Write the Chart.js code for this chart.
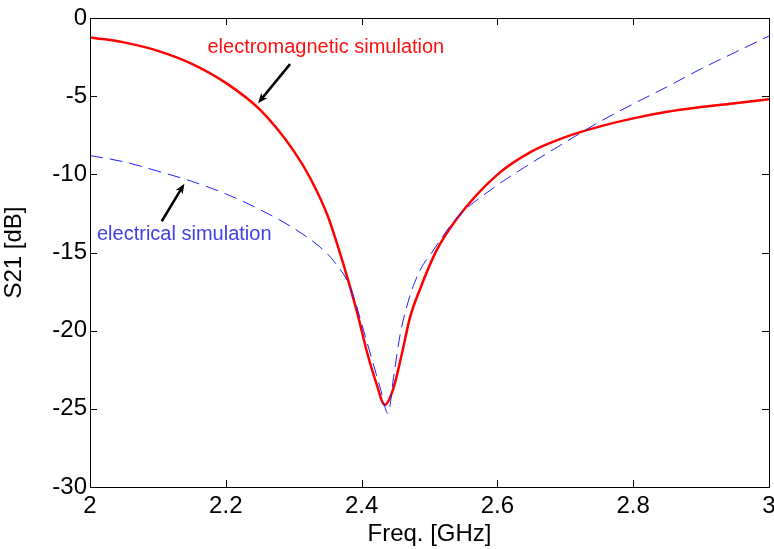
<!DOCTYPE html>
<html>
<head>
<meta charset="utf-8">
<script src="https://cdn.jsdelivr.net/npm/chart.js@4/dist/chart.umd.min.js"></script>
<style>
  html, body { margin: 0; padding: 0; background: #fff; }
  #wrap { width: 774px; height: 549px; }
</style>
</head>
<body>
<div id="wrap"><canvas id="s21"></canvas></div>
<script>
// values
const emFreq = [2.00, 2.025, 2.05, 2.10, 2.15, 2.20, 2.25, 2.30, 2.325, 2.35, 2.365, 2.383, 2.395, 2.4075, 2.422, 2.434, 2.446, 2.46, 2.471, 2.486, 2.51, 2.54, 2.60, 2.65, 2.70, 2.75, 2.80, 2.85, 2.90, 2.95, 3.00];
const emS21  = [-1.25, -1.38, -1.56, -2.1, -2.93, -4.15, -5.85, -8.5, -10.3, -12.65, -14.6, -17.2, -19.1, -21.3, -23.4, -24.75, -23.8, -21.35, -19.2, -17.35, -14.9, -12.85, -10.02, -8.55, -7.62, -6.95, -6.42, -6.0, -5.7, -5.45, -5.2];

const elFreq = [2.00, 2.05, 2.10, 2.15, 2.20, 2.25, 2.30, 2.34, 2.36, 2.383, 2.407, 2.427, 2.439, 2.447, 2.457, 2.471, 2.486, 2.505, 2.54, 2.59, 2.64, 2.70, 2.75, 2.80, 2.85, 2.90, 2.95, 3.00];
const elS21  = [-8.8, -9.2, -9.8, -10.45, -11.25, -12.25, -13.45, -14.7, -15.6, -17.2, -20.6, -23.6, -25.3, -23.0, -20.2, -17.8, -16.15, -14.9, -12.8, -11.0, -9.55, -7.95, -6.65, -5.5, -4.4, -3.25, -2.2, -1.15];

const xTicks = [2, 2.2, 2.4, 2.6, 2.8, 3];
const yTicks = [0, -5, -10, -15, -20, -25, -30];

// pointer labels (data coordinates)
const notes = [
  { text: "electromagnetic simulation", color: "#ff1010", at: [2.173, -1.86], from: [2.2946, -2.95], to: [2.2474, -5.45] },
  { text: "electrical simulation", color: "#4040e8", at: [2.0103, -13.85], from: [2.1056, -13.0], to: [2.139, -10.6] }
];

function pts(xs, ys) {
  return xs.map((x, i) => ({ x: x, y: ys[i] }));
}

const FONT = "'Liberation Sans', Arial, sans-serif";

// box around the plot with inward ticks, matlab style
const boxPlugin = {
  id: "box",
  afterDraw(chart) {
    const ctx = chart.ctx, a = chart.chartArea;
    const xs = chart.scales.x, ys = chart.scales.y;
    const len = 7;
    ctx.save();
    ctx.strokeStyle = "#000";
    ctx.lineWidth = 1;
    ctx.beginPath();
    xTicks.forEach(v => {
      const px = Math.round(xs.getPixelForValue(v)) + 0.5;
      ctx.moveTo(px, a.bottom); ctx.lineTo(px, a.bottom - len);
      ctx.moveTo(px, a.top); ctx.lineTo(px, a.top + len);
    });
    yTicks.forEach(v => {
      const py = Math.round(ys.getPixelForValue(v)) + 0.5;
      ctx.moveTo(a.left, py); ctx.lineTo(a.left + len, py);
      ctx.moveTo(a.right, py); ctx.lineTo(a.right - len, py);
    });
    ctx.stroke();
    ctx.strokeRect(Math.round(a.left) + 0.5, Math.round(a.top) + 0.5, Math.round(a.right - a.left), Math.round(a.bottom - a.top));
    ctx.restore();
  }
};

const notePlugin = {
  id: "notes",
  afterDatasetsDraw(chart) {
    const ctx = chart.ctx;
    const xs = chart.scales.x, ys = chart.scales.y;
    ctx.save();
    notes.forEach(n => {
      ctx.font = "20px " + FONT;
      ctx.fillStyle = n.color;
      ctx.textAlign = "left";
      ctx.textBaseline = "middle";
      ctx.fillText(n.text, xs.getPixelForValue(n.at[0]), ys.getPixelForValue(n.at[1]));
      // arrow
      const x1 = xs.getPixelForValue(n.from[0]), y1 = ys.getPixelForValue(n.from[1]);
      const x2 = xs.getPixelForValue(n.to[0]), y2 = ys.getPixelForValue(n.to[1]);
      const ang = Math.atan2(y2 - y1, x2 - x1);
      ctx.strokeStyle = "#000";
      ctx.lineWidth = 2.5;
      ctx.beginPath();
      ctx.moveTo(x1, y1);
      ctx.lineTo(x2 - 4 * Math.cos(ang), y2 - 4 * Math.sin(ang));
      ctx.stroke();
      ctx.fillStyle = "#000";
      ctx.beginPath();
      ctx.moveTo(x2, y2);
      ctx.lineTo(x2 - 11 * Math.cos(ang - 0.38), y2 - 11 * Math.sin(ang - 0.38));
      ctx.lineTo(x2 - 7 * Math.cos(ang), y2 - 7 * Math.sin(ang));
      ctx.lineTo(x2 - 11 * Math.cos(ang + 0.38), y2 - 11 * Math.sin(ang + 0.38));
      ctx.closePath();
      ctx.fill();
    });
    ctx.restore();
  }
};

new Chart(document.getElementById("s21"), {
  type: "line",
  data: {
    datasets: [{
      label: "electrical simulation",
      data: pts(elFreq, elS21),
      borderColor: "#2020ff",
      borderWidth: 1,
      borderDash: [13, 7],
      pointRadius: 0,
      fill: false,
      cubicInterpolationMode: "monotone"
    }, {
      label: "electromagnetic simulation",
      data: pts(emFreq, emS21),
      borderColor: "#ff0000",
      borderWidth: 2.5,
      pointRadius: 0,
      fill: false,
      cubicInterpolationMode: "monotone"
    }]
  },
  options: {
    responsive: true,
    maintainAspectRatio: false,
    animation: false,
    layout: { padding: { top: 18, right: 5, left: 0, bottom: 0 } },
    plugins: { legend: { display: false }, tooltip: { enabled: false } },
    scales: {
      x: {
        type: "linear",
        min: 2, max: 3,
        afterBuildTicks: s => { s.ticks = xTicks.map(v => ({ value: v })); },
        afterFit: s => { s.height = 62; s.paddingLeft = 0; s.paddingRight = 0; },
        grid: { display: false, drawTicks: false },
        border: { display: false },
        ticks: {
          color: "#000", font: { family: FONT, size: 24 }, padding: 5, maxRotation: 0,
          callback: v => String(Math.round(v * 10) / 10)
        },
        title: { display: true, text: "Freq. [GHz]", color: "#000", font: { family: FONT, size: 24 }, padding: { top: 0, bottom: 0 } }
      },
      y: {
        min: -30, max: 0,
        afterBuildTicks: s => { s.ticks = yTicks.map(v => ({ value: v })); },
        afterFit: s => { s.width = 90; s.paddingTop = 0; s.paddingBottom = 0; },
        grid: { display: false, drawTicks: false },
        border: { display: false },
        ticks: { color: "#000", font: { family: FONT, size: 24 }, padding: 3 },
        title: { display: true, text: "S21 [dB]", color: "#000", font: { family: FONT, size: 24 }, padding: { top: 0, bottom: 4 } }
      }
    }
  },
  plugins: [boxPlugin, notePlugin]
});
</script>
</body>
</html>
